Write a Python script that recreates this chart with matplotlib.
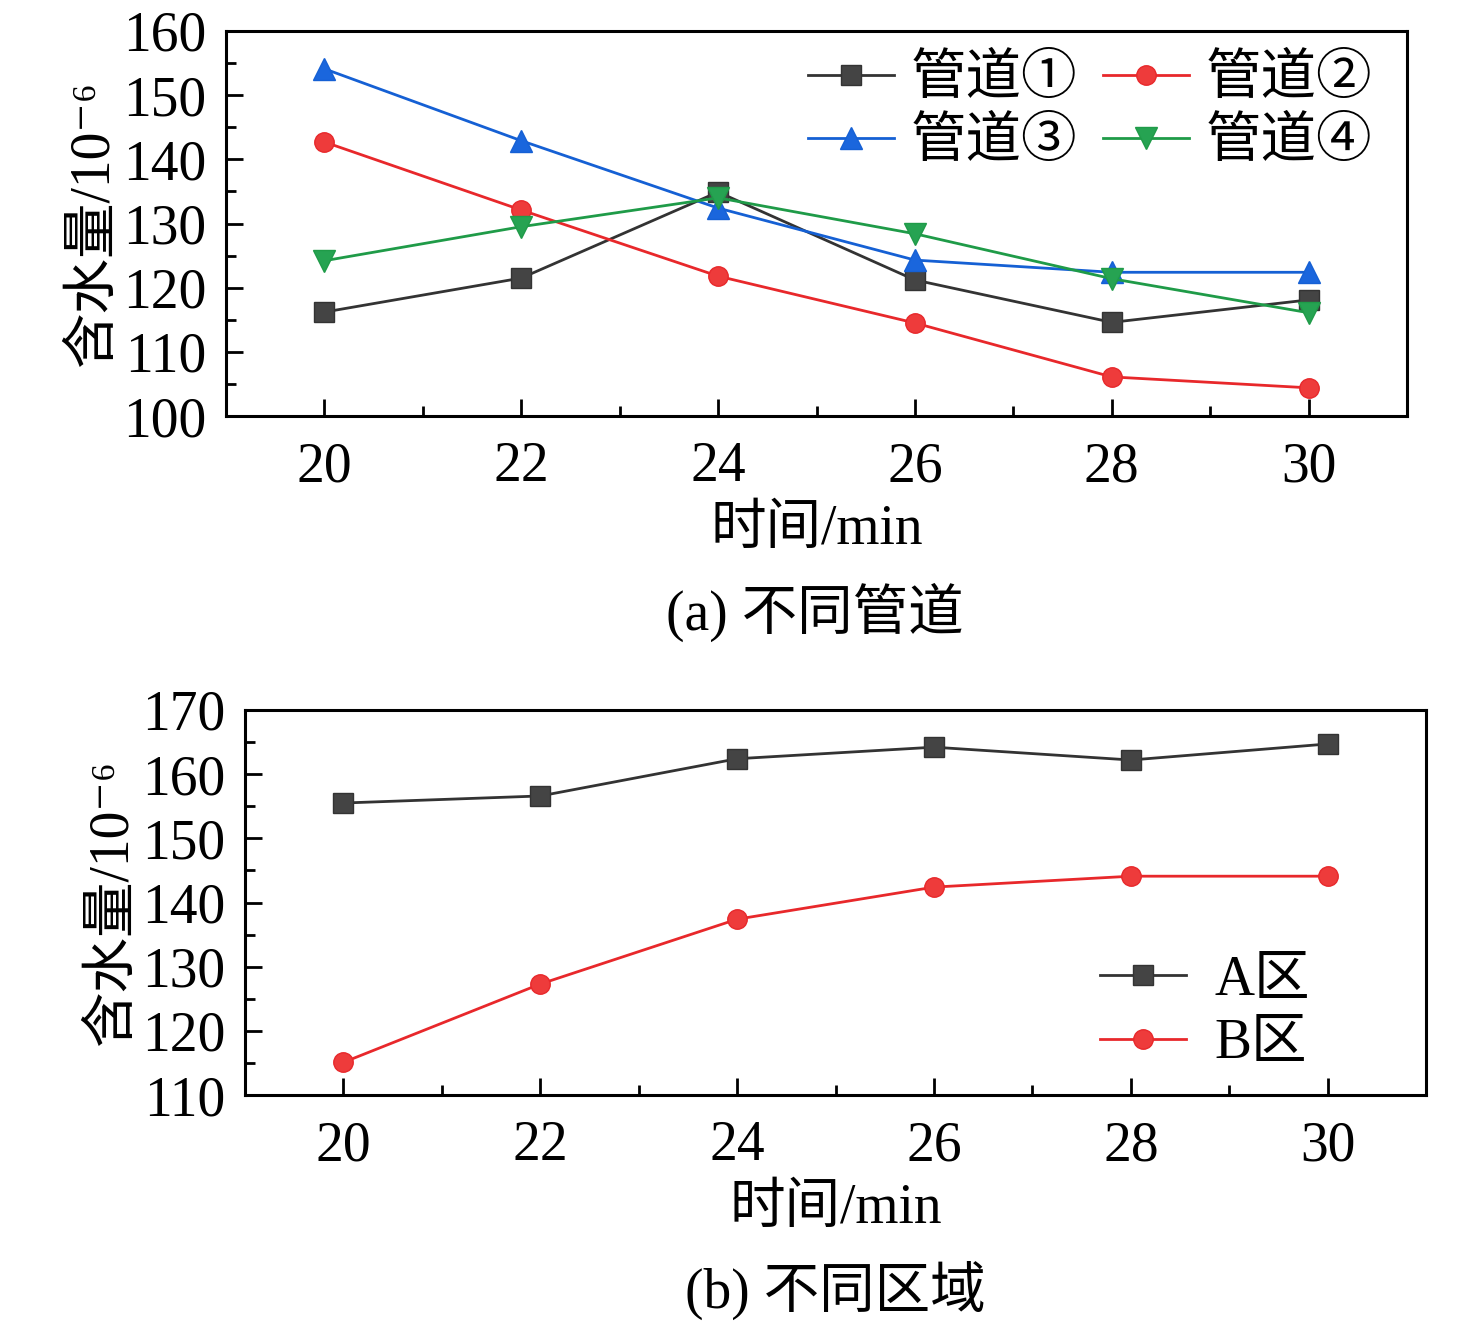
import numpy as np
import matplotlib
matplotlib.use("Agg")
import matplotlib.pyplot as plt
from matplotlib.ticker import MultipleLocator

plt.rcParams['font.family'] = ['Liberation Serif', 'Noto Sans CJK SC', 'DejaVu Sans']

# (a) different pipes
time_a = [20, 22, 24, 26, 28, 30]
pipe1 = [116.2, 121.5, 134.9, 121.2, 114.6, 118.1]
pipe2 = [142.7, 132.1, 121.8, 114.5, 106.1, 104.4]
pipe3 = [154.1, 142.9, 132.4, 124.3, 122.4, 122.4]
pipe4 = [124.2, 129.5, 134.0, 128.4, 121.4, 116.1]
pipe_labels = ['管道①', '管道②', '管道③', '管道④']

# (b) different zones
time_b = [20, 22, 24, 26, 28, 30]
zone_a = [155.5, 156.6, 162.4, 164.2, 162.2, 164.7]
zone_b = [115.1, 127.3, 137.4, 142.4, 144.1, 144.1]
zone_labels = ['A区', 'B区']

FS = 40
ylabel = '含水量/10⁻⁶'


def style_axes(ax, ylim):
    ax.set_xlim(19, 31)
    ax.set_ylim(*ylim)
    ax.xaxis.set_major_locator(MultipleLocator(2))
    ax.xaxis.set_minor_locator(MultipleLocator(1))
    ax.yaxis.set_major_locator(MultipleLocator(10))
    ax.yaxis.set_minor_locator(MultipleLocator(5))
    ax.tick_params(which='major', direction='in', length=12, width=2,
                   labelsize=FS)
    ax.tick_params(which='minor', direction='in', length=7, width=2)
    ax.tick_params(axis='y', which='both', left=True, right=False, pad=14)
    ax.tick_params(axis='x', which='both', bottom=True, top=False, pad=18)
    for s in ax.spines.values():
        s.set_linewidth(2.2)
    ax.set_xlabel('时间/min', fontsize=FS, labelpad=8)
    ax.set_ylabel(ylabel, fontsize=FS, labelpad=2)


fig = plt.figure(figsize=(14.76, 13.28), dpi=100)

ax1 = fig.add_axes([0.1531, 0.6867, 0.8002, 0.29])
kw = dict(lw=2.0, ms=14)
ax1.plot(time_a, pipe1, '-s', color='#333333', mfc='#444444', label=pipe_labels[0], **kw)
ax1.plot(time_a, pipe2, '-o', color='#e8282b', mfc='#ee3b3b', label=pipe_labels[1], **kw)
ax1.plot(time_a, pipe3, '-^', color='#1560d4', mfc='#1a66dd', label=pipe_labels[2], ms=16, lw=2.0)
ax1.plot(time_a, pipe4, '-v', color='#1f9b48', mfc='#26a352', label=pipe_labels[3], ms=16, lw=2.0)
style_axes(ax1, (100, 160))
h, l = ax1.get_legend_handles_labels()
order = [0, 2, 1, 3]
ax1.legend([h[i] for i in order], [l[i] for i in order], ncol=2, loc='upper left',
           frameon=False, fontsize=FS, handlelength=1.55, handletextpad=0.3,
           columnspacing=0.45, labelspacing=0.2, borderpad=0, borderaxespad=0,
           bbox_to_anchor=(0.493, 0.94))
fig.text(0.552, 1 - 612 / 1328, '(a) 不同管道', fontsize=FS, ha='center', va='center')

ax2 = fig.add_axes([0.166, 0.1754, 0.8002, 0.29])
ax2.plot(time_b, zone_a, '-s', color='#333333', mfc='#444444', label=zone_labels[0], **kw)
ax2.plot(time_b, zone_b, '-o', color='#e8282b', mfc='#ee3b3b', label=zone_labels[1], **kw)
style_axes(ax2, (110, 170))
ax2.legend(loc='upper left', frameon=False, fontsize=FS, handlelength=1.55,
           handletextpad=0.5, labelspacing=0.2, borderpad=0, borderaxespad=0,
           bbox_to_anchor=(0.724, 0.364))
fig.text(0.566, 1 - 1290 / 1328, '(b) 不同区域', fontsize=FS, ha='center', va='center')

fig.savefig('out.png', dpi=100)
